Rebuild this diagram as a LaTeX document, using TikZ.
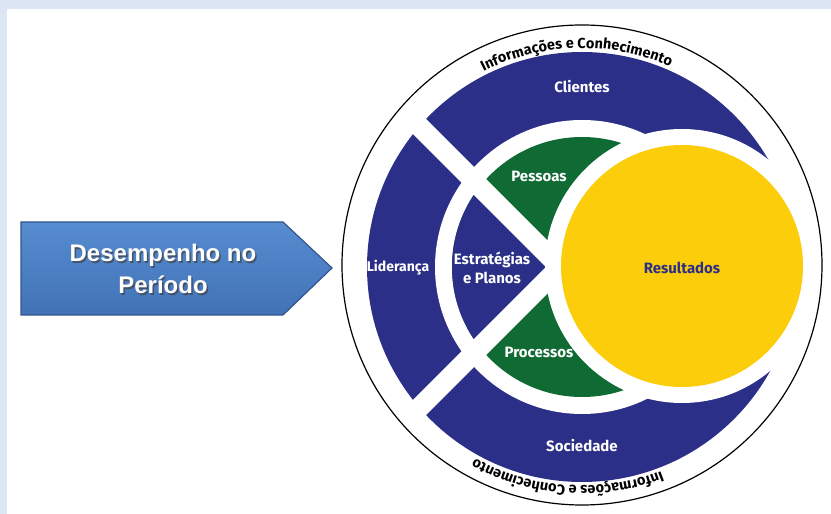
\documentclass[tikz,border=0pt]{standalone}
\usepackage{fontspec}
\setmainfont{Fira Sans}
\newfontfamily\arrowfont{Liberation Sans}
\usetikzlibrary{decorations.text}
\definecolor{ringblue}{RGB}{43,47,135}
\definecolor{leafgreen}{RGB}{16,106,52}
\definecolor{sunyellow}{RGB}{252,205,10}
\definecolor{pageblue}{RGB}{220,230,244}
\definecolor{arrowtop}{RGB}{86,140,208}
\definecolor{arrowbot}{RGB}{66,114,182}
\definecolor{arrowedge}{RGB}{50,86,140}

\begin{document}
\begin{tikzpicture}[x=1pt,y=1pt,
  part label/.style={font=\bfseries\fontsize{15}{19}\selectfont,text=white,align=center},
  arrow label/.style={font=\arrowfont\bfseries\fontsize{24}{32}\selectfont,text=white,align=center},
  ring text/.style={decorate,decoration={text along path,text align=center,
    text={|\bfseries\fontsize{14.5}{14.5}\selectfont|Informações e Conhecimento}}}]

  \useasboundingbox (0,0) rectangle (831,514);
  \fill[pageblue] (0,505) rectangle (831,514);
  \fill[pageblue] (0,0) rectangle (7,505);

  \coordinate (c) at (582,247);
  \coordinate (x) at (560,247);
  \coordinate (r) at (682,248);

  \fill[ringblue] (c) circle (215);
  \fill[white] (c) circle (147);
  \fill[leafgreen] (c) circle (130);
  \begin{scope}
    \clip (c) circle (130);
    \fill[ringblue] (x) -- ++(135:250) -- ++(0,-354) -- cycle;
  \end{scope}
  \begin{scope}
    \clip (c) circle (216);
    \draw[white,line width=20] (x) ++(135:260) -- ++(-45:290);
    \draw[white,line width=20] (x) ++(225:260) -- ++(45:290);
  \end{scope}
  \fill[white] (r) circle (137);
  \fill[sunyellow] (r) circle (121);
  \draw[line width=1.2] (582,249) circle (240);

  \path[ring text] (c) ++(131.5:219) arc[start angle=131.5,end angle=51.5,radius=219];
  \path[ring text] (c) ++(-54:219) arc[start angle=-54,end angle=-134,radius=219];

  \node[part label] (clientes) at (582,427) {Clientes};
  \node[part label,font=\bfseries\fontsize{14}{19}\selectfont] (lideranca) at (398,246) {Liderança};
  \node[part label] (estrategias) at (492,246) {Estratégias\\e Planos};
  \node[part label] (pessoas) at (539,338) {Pessoas};
  \node[part label] (processos) at (539,162) {Processos};
  \node[part label] (sociedade) at (582,68) {Sociedade};
  \node[part label,text=ringblue] (resultados) at (682,246) {Resultados};

  \path[draw=arrowedge,line width=1.2,top color=arrowtop,bottom color=arrowbot]
    (21,292) -- (283,292) -- (332,246) -- (283,199) -- (21,199) -- cycle;
  \node[arrow label,text=black!75,opacity=.7] (perf shade) at (164.5,243.5) {Desempenho no\\Período};
  \node[arrow label] (perf) at (163,245) {Desempenho no\\Período};
\end{tikzpicture}
\end{document}
